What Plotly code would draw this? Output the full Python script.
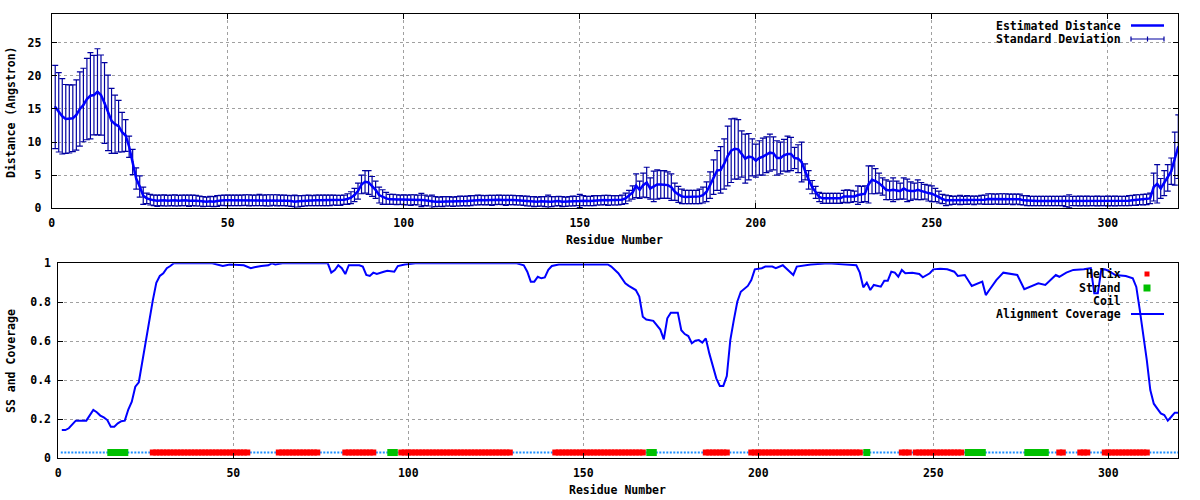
import plotly.graph_objects as go

# ---------------- data ----------------
residues = list(range(1, 321))

distance = [
    15.3, 14.5, 13.9, 13.5, 13.5, 13.6, 14.1, 15.0, 15.6, 16.5,
    17.0, 17.1, 17.6, 17.1, 15.9, 14.4, 13.2, 12.7, 12.4, 11.5,
    11.0, 9.3, 7.0, 4.5, 3.3, 1.9, 1.5, 1.3, 1.2, 1.15,
    1.2, 1.2, 1.15, 1.2, 1.2, 1.15, 1.2, 1.2, 1.15, 1.2,
    1.15, 1.1, 1.0, 1.0, 1.05, 1.0, 1.1, 1.2, 1.2, 1.2,
    1.2, 1.2, 1.2, 1.2, 1.25, 1.2, 1.2, 1.2, 1.25, 1.2,
    1.2, 1.2, 1.25, 1.2, 1.2, 1.2, 1.15, 1.1, 1.0, 1.05,
    1.1, 1.15, 1.2, 1.15, 1.2, 1.2, 1.2, 1.2, 1.2, 1.25,
    1.2, 1.2, 1.3, 1.4, 1.6, 2.0, 2.6, 3.6, 4.0, 3.9,
    3.3, 2.8, 2.0, 1.7, 1.5, 1.35, 1.35, 1.3, 1.3, 1.3,
    1.25, 1.25, 1.3, 1.25, 1.25, 1.2, 1.1, 1.0, 1.0, 1.0,
    1.0, 1.05, 1.05, 1.0, 1.05, 1.1, 1.1, 1.1, 1.15, 1.2,
    1.25, 1.25, 1.2, 1.25, 1.2, 1.25, 1.3, 1.25, 1.2, 1.25,
    1.25, 1.2, 1.2, 1.15, 1.1, 1.05, 1.0, 1.0, 1.05, 1.0,
    1.0, 1.0, 1.05, 1.1, 1.0, 1.0, 1.05, 1.1, 1.1, 1.1,
    1.15, 1.1, 1.1, 1.15, 1.2, 1.2, 1.25, 1.2, 1.2, 1.2,
    1.2, 1.3, 1.5, 1.9, 2.4, 3.4, 2.8, 3.5, 3.9, 3.0,
    3.3, 3.6, 3.6, 3.6, 3.5, 3.2, 2.5, 2.1, 1.8, 1.7,
    1.7, 1.7, 1.7, 1.8, 2.0, 2.5, 3.5, 4.7, 5.7, 5.8,
    6.7, 7.9, 8.7, 9.0, 8.9, 8.2, 7.5, 7.8, 7.7, 7.2,
    7.6, 7.8, 8.1, 8.4, 8.3, 7.6, 7.6, 8.0, 8.2, 8.2,
    7.6, 7.5, 7.0, 5.5, 4.3, 3.2, 2.4, 1.7, 1.5, 1.5,
    1.5, 1.5, 1.5, 1.5, 1.8, 1.8, 1.8, 1.8, 2.0, 2.1,
    2.2, 3.6, 4.3, 4.1, 3.8, 3.3, 2.8, 2.7, 2.8, 2.7,
    2.6, 3.0, 2.7, 2.6, 2.6, 2.8, 2.6, 2.5, 2.3, 2.2,
    2.0, 1.7, 1.4, 1.2, 1.2, 1.2, 1.25, 1.25, 1.2, 1.25,
    1.25, 1.2, 1.25, 1.3, 1.3, 1.4, 1.4, 1.4, 1.4, 1.4,
    1.4, 1.4, 1.35, 1.4, 1.35, 1.2, 1.15, 1.1, 1.1, 1.1,
    1.1, 1.1, 1.1, 1.1, 1.1, 1.1, 1.1, 1.05, 1.05, 1.1,
    1.1, 1.1, 1.1, 1.1, 1.1, 1.1, 1.1, 1.1, 1.1, 1.1,
    1.1, 1.1, 1.1, 1.1, 1.1, 1.15, 1.2, 1.25, 1.3, 1.3,
    1.35, 1.5, 3.2, 3.7, 3.0, 3.8, 4.6, 5.6, 7.5, 9.3,
]

std_dev = [
    6.3, 6.0, 5.7, 5.2, 5.15, 5.05, 5.3, 5.6, 5.55, 6.15,
    6.5, 6.0, 6.5, 6.05, 6.1, 5.7, 4.9, 4.4, 3.9, 3.0,
    2.4, 1.6, 1.9, 1.6, 1.6, 1.3, 0.8, 0.8, 0.8, 0.85,
    0.8, 0.85, 0.8, 0.8, 0.85, 0.8, 0.8, 0.8, 0.85, 0.8,
    0.8, 0.75, 0.75, 0.7, 0.75, 0.75, 0.8, 0.75, 0.8, 0.8,
    0.8, 0.8, 0.8, 0.8, 0.8, 0.85, 0.8, 0.8, 0.85, 0.8,
    0.85, 0.85, 0.8, 0.85, 0.8, 0.8, 0.8, 0.8, 1.0, 0.85,
    0.8, 0.8, 0.8, 0.75, 0.8, 0.8, 0.8, 0.8, 0.8, 0.75,
    0.75, 0.75, 0.7, 0.8, 0.9, 1.0, 1.2, 1.4, 1.7, 1.8,
    1.5, 1.3, 1.2, 1.1, 0.9, 0.75, 0.75, 0.75, 0.7, 0.75,
    0.75, 0.8, 0.75, 0.75, 1.0, 0.8, 0.75, 1.0, 0.75, 0.7,
    0.75, 0.7, 0.7, 0.7, 0.7, 0.75, 0.7, 0.75, 0.75, 0.7,
    0.75, 0.7, 0.7, 0.7, 0.75, 0.7, 0.7, 0.7, 0.75, 0.7,
    0.7, 0.7, 0.7, 0.7, 0.75, 0.7, 0.75, 0.7, 0.7, 0.75,
    1.0, 0.75, 0.7, 0.7, 0.75, 0.7, 0.7, 0.75, 0.7, 1.0,
    0.75, 0.7, 0.7, 0.75, 0.7, 0.7, 0.7, 0.75, 0.7, 0.7,
    0.7, 0.7, 0.8, 0.8, 1.0, 1.8, 1.3, 1.8, 2.3, 1.6,
    2.3, 2.2, 2.1, 2.1, 2.0, 2.0, 1.3, 1.2, 1.1, 1.0,
    1.0, 1.0, 1.0, 1.1, 1.2, 1.5, 2.0, 2.6, 3.0, 3.5,
    3.8, 4.5, 4.8, 4.6, 4.5, 3.5, 3.7, 3.5, 2.8, 2.5,
    2.6, 2.8, 2.7, 2.8, 2.5, 2.6, 2.4, 2.4, 2.7, 2.5,
    1.6, 2.1, 3.0, 1.2, 1.4, 1.0, 0.9, 0.7, 0.75, 0.75,
    0.75, 0.75, 0.75, 0.75, 0.9, 1.0, 0.9, 0.8, 1.4, 1.2,
    1.2, 2.8, 2.1, 1.9, 1.5, 1.3, 1.5, 1.4, 1.8, 1.4,
    1.2, 1.6, 1.7, 1.4, 1.2, 1.5, 1.3, 1.1, 1.2, 1.2,
    1.0, 0.9, 0.7, 0.8, 0.7, 0.6, 0.6, 0.7, 0.6, 0.65,
    0.6, 0.65, 0.6, 0.65, 0.7, 0.8, 0.8, 0.75, 0.8, 0.8,
    0.8, 0.75, 0.8, 0.75, 0.8, 0.7, 0.75, 0.7, 0.7, 0.7,
    0.7, 0.7, 0.7, 0.7, 0.7, 0.7, 0.7, 0.8, 1.0, 0.7,
    0.7, 0.75, 0.7, 0.75, 0.7, 0.7, 0.75, 0.7, 0.7, 0.75,
    0.7, 0.75, 0.7, 0.7, 0.7, 0.75, 0.75, 0.8, 0.75, 0.8,
    0.8, 0.8, 2.1, 2.9, 1.5, 1.9, 2.0, 2.0, 4.0, 4.8,
]

coverage_res = [
    1, 2, 3, 4, 5, 8, 9, 10, 11, 12, 13, 14, 15, 16, 17, 18, 19, 20, 21, 22,
    23, 24, 25, 26, 27, 28, 29, 30, 31, 32, 33, 44, 46, 47, 49, 53, 55, 56, 58, 60,
    61, 62, 64, 77, 78, 79, 80, 81, 82, 83, 86, 87, 88, 89, 90, 91, 93, 94, 96, 97,
    99, 102, 131, 132, 133, 134, 135, 136, 137, 138, 139, 140, 141, 143, 157, 158, 160, 162, 163, 165,
    166, 167, 168, 170, 171, 172, 173, 174, 175, 177, 178, 179, 180, 181, 182, 183, 184, 185, 186, 187,
    188, 189, 190, 191, 192, 193, 194, 195, 197, 198, 199, 201, 202, 204, 205, 207, 208, 210, 211, 212,
    215, 220, 224, 228, 229, 230, 231, 232, 233, 235, 236, 237, 238, 239, 240, 241, 242, 244, 246, 247,
    249, 250, 252, 254, 256, 257, 259, 261, 264, 265, 266, 268, 270, 271, 274, 276, 278, 280, 282, 285,
    286, 288, 290, 293, 295, 296, 297, 298, 299, 300, 302, 305, 307, 308, 309, 310, 311, 312, 313, 314,
    315, 316, 317, 318, 319, 320,
]
coverage_val = [
    0.145, 0.145, 0.154, 0.176, 0.193, 0.193, 0.222, 0.248, 0.236, 0.219, 0.21, 0.196, 0.162, 0.162, 0.179, 0.19, 0.193, 0.25, 0.29, 0.367,
    0.39, 0.5, 0.607, 0.7, 0.81, 0.9, 0.935, 0.949, 0.975, 0.986, 1.0, 1.0, 0.99, 0.986, 0.994, 0.99, 0.975, 0.98, 0.986, 0.99,
    1.0, 0.994, 1.0, 1.0, 0.952, 0.965, 0.99, 0.975, 0.945, 0.99, 0.99, 0.983, 0.94, 0.935, 0.952, 0.945, 0.957, 0.962, 0.957, 0.986,
    0.994, 1.0, 1.0, 0.994, 0.99, 0.957, 0.906, 0.906, 0.931, 0.923, 0.928, 0.966, 0.986, 0.994, 0.994, 0.983, 0.949, 0.897, 0.884, 0.863,
    0.829, 0.726, 0.712, 0.705, 0.683, 0.66, 0.61, 0.718, 0.747, 0.747, 0.657, 0.637, 0.627, 0.59, 0.603, 0.606, 0.593, 0.615, 0.538, 0.478,
    0.41, 0.371, 0.371, 0.422, 0.606, 0.709, 0.803, 0.854, 0.884, 0.914, 0.969, 0.975, 0.983, 0.983, 0.975, 0.99, 0.975, 0.94, 0.983, 0.986,
    0.994, 1.0, 0.994, 0.99, 0.952, 0.877, 0.901, 0.863, 0.889, 0.88, 0.911, 0.911, 0.957, 0.952, 0.931, 0.966, 0.949, 0.952, 0.945, 0.928,
    0.949, 0.969, 0.972, 0.969, 0.957, 0.935, 0.94, 0.884, 0.906, 0.837, 0.863, 0.914, 0.952, 0.949, 0.94, 0.867, 0.88, 0.897, 0.889, 0.94,
    0.931, 0.952, 0.966, 0.969, 0.975, 0.846, 0.846, 0.966, 0.969, 0.962, 0.94, 0.935, 0.923, 0.879, 0.76, 0.64, 0.504, 0.35, 0.28, 0.255,
    0.23, 0.222, 0.193, 0.213, 0.234, 0.234,
]

helix_ranges = [(27, 54), (63, 74), (82, 90), (98, 129), (142, 167), (185, 191),
                (198, 229), (241, 243), (245, 258), (286, 287), (292, 294), (299, 311)]
strand_ranges = [(15, 19), (95, 96), (169, 170), (231, 231), (260, 264), (277, 282)]
ss_level = 0.03

x_ticks = [0, 50, 100, 150, 200, 250, 300]
dist_ticks = [0, 5, 10, 15, 20, 25]
cov_ticks = [0, 0.2, 0.4, 0.6, 0.8, 1]
cov_tick_text = ["0", "0.2", "0.4", "0.6", "0.8", "1"]

# ---------------- derived ----------------
helix_res = [r for a, b in helix_ranges for r in range(a, b + 1)]
strand_res = [r for a, b in strand_ranges for r in range(a, b + 1)]
ss_taken = set(helix_res) | set(strand_res)
coil_res = [r for r in residues if r not in ss_taken]

W, H = 1200, 500
FONT = dict(family="DejaVu Sans Mono", size=11.5, color="black", weight="bold")
BLUE = "#0000ff"
DARKBLUE = "#0000a0"

fig = go.Figure()

# top panel
fig.add_trace(go.Scatter(
    x=residues, y=distance, mode="markers", xaxis="x", yaxis="y",
    marker=dict(size=2, color=DARKBLUE),
    error_y=dict(type="data", array=std_dev, visible=True, color=DARKBLUE, thickness=1.2, width=3),
    showlegend=False, name="Standard Deviation"))
fig.add_trace(go.Scatter(
    x=residues, y=distance, mode="lines", xaxis="x", yaxis="y",
    line=dict(color=BLUE, width=2.5), showlegend=False, name="Estimated Distance"))

# bottom panel
fig.add_trace(go.Scatter(
    x=coil_res, y=[ss_level] * len(coil_res), mode="markers", xaxis="x2", yaxis="y2",
    marker=dict(size=2, color="#1e90ff", symbol="square"), showlegend=False, name="Coil"))
fig.add_trace(go.Scatter(
    x=helix_res, y=[ss_level] * len(helix_res), mode="markers", xaxis="x2", yaxis="y2",
    marker=dict(size=6, color="#ff0000", symbol="square"), showlegend=False, name="Helix"))
fig.add_trace(go.Scatter(
    x=strand_res, y=[ss_level] * len(strand_res), mode="markers", xaxis="x2", yaxis="y2",
    marker=dict(size=7, color="#00c000", symbol="square"), showlegend=False, name="Strand"))
fig.add_trace(go.Scatter(
    x=coverage_res, y=coverage_val, mode="lines", xaxis="x2", yaxis="y2",
    line=dict(color=BLUE, width=2), showlegend=False, name="Alignment Coverage"))

axis_common = dict(
    showline=True, linecolor="black", linewidth=1, mirror="ticks",
    ticks="inside", ticklen=5, tickcolor="black", tickwidth=1,
    showgrid=True, gridcolor="#a0a0a0", griddash="dot", gridwidth=1,
    zeroline=False, tickfont=FONT, fixedrange=True, automargin=False,
)

def px2x(px):
    return px / W

def py2y(py):
    return 1 - py / H

fig.update_layout(
    width=W, height=H, margin=dict(l=0, r=0, t=0, b=0, autoexpand=False),
    paper_bgcolor="white", plot_bgcolor="white", showlegend=False,
    xaxis=dict(axis_common, domain=[px2x(51.7), px2x(1178.3)], range=[0, 320],
               tickvals=x_ticks, anchor="y", ticklabelstandoff=4),
    yaxis=dict(axis_common, domain=[py2y(208.3), py2y(14.3)], range=[0, 29.3],
               tickvals=dist_ticks, anchor="x", ticklabelstandoff=7),
    xaxis2=dict(axis_common, domain=[px2x(58.3), px2x(1178.3)], range=[0, 320],
                tickvals=x_ticks, anchor="y2", ticklabelstandoff=4),
    yaxis2=dict(axis_common, domain=[py2y(458.3), py2y(263.3)], range=[0, 1],
                tickvals=cov_ticks, ticktext=cov_tick_text, anchor="x2", ticklabelstandoff=4),
)

annotations = []
def label(text, px, py, xanchor="center", angle=0):
    annotations.append(dict(text=text, x=px2x(px), y=py2y(py), xref="paper", yref="paper",
                            xanchor=xanchor, yanchor="middle", showarrow=False,
                            font=FONT, textangle=angle))

label("Residue Number", 614, 240)
label("Residue Number", 617, 490)
label("Distance (Angstron)", 11, 112, angle=-90)
label("SS and Coverage", 11, 361, angle=-90)

# legends (text right-aligned, sample on the right, gnuplot style)
label("Estimated Distance", 1123, 26, xanchor="right")
label("Standard Deviation", 1123, 39, xanchor="right")
label("Helix", 1123, 274, xanchor="right")
label("Strand", 1123, 288, xanchor="right")
label("Coil", 1123, 301, xanchor="right")
label("Alignment Coverage", 1123, 314, xanchor="right")
fig.update_layout(annotations=annotations)

shapes = []
def pshape(kind, x0, y0, x1, y1, **kw):
    d = dict(type=kind, xref="paper", yref="paper",
             x0=px2x(x0), x1=px2x(x1), y0=py2y(y0), y1=py2y(y1))
    d.update(kw)
    shapes.append(d)

# key boxes hide grid (gnuplot style)
pshape("rect", 996, 15, 1177, 41, fillcolor="white", line=dict(width=0), layer="below")
pshape("rect", 996, 264, 1177, 320, fillcolor="white", line=dict(width=0), layer="below")
# top key samples
pshape("line", 1131, 25.5, 1164, 25.5, line=dict(color=BLUE, width=2.5))
pshape("line", 1131, 39, 1164, 39, line=dict(color=DARKBLUE, width=1.2))
for xx in (1131, 1147.5, 1164):
    pshape("line", xx, 36.5, xx, 41.5, line=dict(color=DARKBLUE, width=1.2))
# bottom key samples
pshape("rect", 1144.5, 271.5, 1149.5, 276.5, fillcolor="#ff0000", line=dict(width=0))
pshape("rect", 1143.5, 284.5, 1150.5, 291.5, fillcolor="#00c000", line=dict(width=0))
pshape("rect", 1146.5, 300, 1147.5, 301, fillcolor="#1e90ff", line=dict(width=0))
pshape("line", 1131, 314, 1164, 314, line=dict(color=BLUE, width=2))
fig.update_layout(shapes=shapes)

fig.write_html(
    "out.html",
    config={"displayModeBar": False},
    post_script="document.body.style.margin='0';document.body.style.overflow='hidden';",
)
